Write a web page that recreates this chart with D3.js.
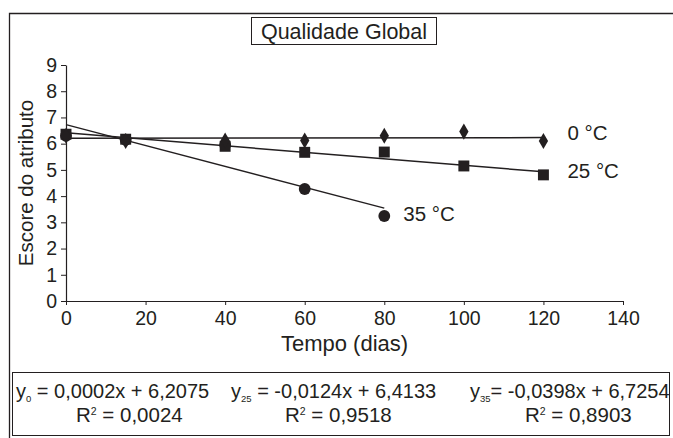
<!DOCTYPE html>
<html>
<head>
<meta charset="utf-8">
<script src="https://cdn.jsdelivr.net/npm/d3@7"></script>
<style>
  body { margin: 0; background: #fff; }
  svg text { font-family: "Liberation Sans", Arial, sans-serif; fill: #231f20; }
</style>
</head>
<body>
<div id="chart"></div>
<script>
// days of storage
const days = [0, 15, 40, 60, 80, 100, 120];
const days35 = [0, 15, 40, 60, 80];

// attribute scores
const score0 = [6.3, 6.1, 6.12, 6.12, 6.3, 6.46, 6.1];
const score25 = [6.36, 6.17, 5.9, 5.67, 5.68, 5.15, 4.81];
const score35 = [6.3, 6.15, 5.95, 4.27, 3.24];

// fitted lines (from the equations under the chart)
const seriesNames = ['0 °C', '25 °C', '35 °C'];
const slopes = [0.0002, -0.0124, -0.0398];
const intercepts = [6.2075, 6.4133, 6.7254];
const eqSubs = ['0', '25', '35'];
const eqTexts = [' = 0,0002x + 6,2075', ' = -0,0124x + 6,4133', '= -0,0398x + 6,7254'];
const r2Texts = [' = 0,0024', ' = 0,9518', ' = 0,8903'];

const xTicks = [0, 20, 40, 60, 80, 100, 120, 140];
const yTicks = [0, 1, 2, 3, 4, 5, 6, 7, 8, 9];

const width = 673;
const height = 438;
const margin = { top: 65, right: 50, bottom: 137, left: 66 };
const fs = 19.5;

const svg = d3.select('#chart')
    .append('svg')
    .attr('width', width)
    .attr('height', height);

// outer frame
svg.append('path')
    .attr('d', `M9.5,${height} V13.5 H${width}`)
    .attr('fill', 'none')
    .attr('stroke', '#231f20')
    .attr('stroke-width', 1.3);

// title box
svg.append('rect')
    .attr('x', 251.5).attr('y', 17.5)
    .attr('width', 185).attr('height', 27)
    .attr('fill', '#fff')
    .attr('stroke', '#231f20');
svg.append('text')
    .attr('x', 344).attr('y', 39)
    .attr('text-anchor', 'middle')
    .attr('font-size', 21.5)
    .text('Qualidade Global');

xScale = d3.scaleLinear()
    .domain([0, 140])
    .range([margin.left, width - margin.right]);

yScale = d3.scaleLinear()
    .domain([0, 9])
    .range([height - margin.bottom, margin.top]);

// axes
const xAxis = svg.append('g')
    .attr('transform', `translate(0,${height - margin.bottom})`)
    .call(d3.axisBottom(xScale).tickValues(xTicks).tickSize(4).tickSizeOuter(0).tickPadding(6));

const yAxis = svg.append('g')
    .attr('transform', `translate(${margin.left},0)`)
    .call(d3.axisLeft(yScale).tickValues(yTicks).tickSize(5).tickSizeOuter(0).tickPadding(4));

[xAxis, yAxis].forEach(ax => {
    ax.select('.domain').attr('stroke', '#231f20').attr('stroke-width', 1.2);
    ax.selectAll('.tick line').attr('stroke', '#231f20');
    ax.selectAll('.tick text')
        .attr('font-size', fs)
        .attr('font-family', '"Liberation Sans", Arial, sans-serif')
        .attr('fill', '#231f20');
});

// axis titles
svg.append('text')
    .attr('x', (xScale(0) + xScale(140)) / 2)
    .attr('y', 351)
    .attr('text-anchor', 'middle')
    .attr('font-size', 22)
    .text('Tempo (dias)');

svg.append('text')
    .attr('transform', `translate(33,${(yScale(0) + yScale(9)) / 2}) rotate(-90)`)
    .attr('text-anchor', 'middle')
    .attr('font-size', 20.5)
    .text('Escore do atributo');

// trend lines
const lineEnds = [120, 120, 80];
const line = d3.line().x(d => xScale(d[0])).y(d => yScale(d[1]));
slopes.forEach((s, i) => {
    const pts = [0, lineEnds[i]].map(x => [x, intercepts[i] + s * x]);
    svg.append('path')
        .attr('d', line(pts))
        .attr('fill', 'none')
        .attr('stroke', '#231f20')
        .attr('stroke-width', 1.5);
});

// markers
const sym = d3.symbol();
const plotSeries = [
    { x: days35, y: score35, type: d3.symbolCircle, size: 110 },
    { x: days, y: score25, type: d3.symbolSquare, size: 120 },
    { x: days, y: score0, type: d3.symbolDiamond, size: 75 }
];
plotSeries.forEach(s => {
    svg.append('g')
        .selectAll('path')
        .data(s.y)
        .join('path')
        .attr('transform', (d, i) => `translate(${xScale(s.x[i])},${yScale(d)})`)
        .attr('d', sym.type(s.type).size(s.size)())
        .attr('fill', '#231f20');
});

// series labels
const labelPos = [[120, 6.42], [120, 4.97], [80, 3.32]];
const labelDx = [24, 24, 19];
seriesNames.forEach((n, i) => {
    svg.append('text')
        .attr('x', xScale(labelPos[i][0]) + labelDx[i])
        .attr('y', yScale(labelPos[i][1]))
        .attr('dy', '0.35em')
        .attr('font-size', 20.5)
        .text(n);
});

// equations box
svg.append('rect')
    .attr('x', 12.5).attr('y', 372.5)
    .attr('width', 657).attr('height', 63)
    .attr('fill', '#fff')
    .attr('stroke', '#231f20');

const eqX = [16, 231, 470];
const r2X = [76, 285, 525];
eqTexts.forEach((t, i) => {
    const txt = svg.append('text')
        .attr('x', eqX[i])
        .attr('y', 398)
        .attr('font-size', 20);
    txt.append('tspan').text('y');
    txt.append('tspan').attr('font-size', 9.5).attr('dy', 4).text(eqSubs[i]);
    txt.append('tspan').attr('dy', -4).text(t);

    const r = svg.append('text')
        .attr('x', r2X[i])
        .attr('y', 422)
        .attr('font-size', 20.5);
    r.append('tspan').text('R');
    r.append('tspan').attr('font-size', 10.5).attr('dy', -7).text('2');
    r.append('tspan').attr('dy', 7).text(r2Texts[i]);
});
</script>
</body>
</html>
